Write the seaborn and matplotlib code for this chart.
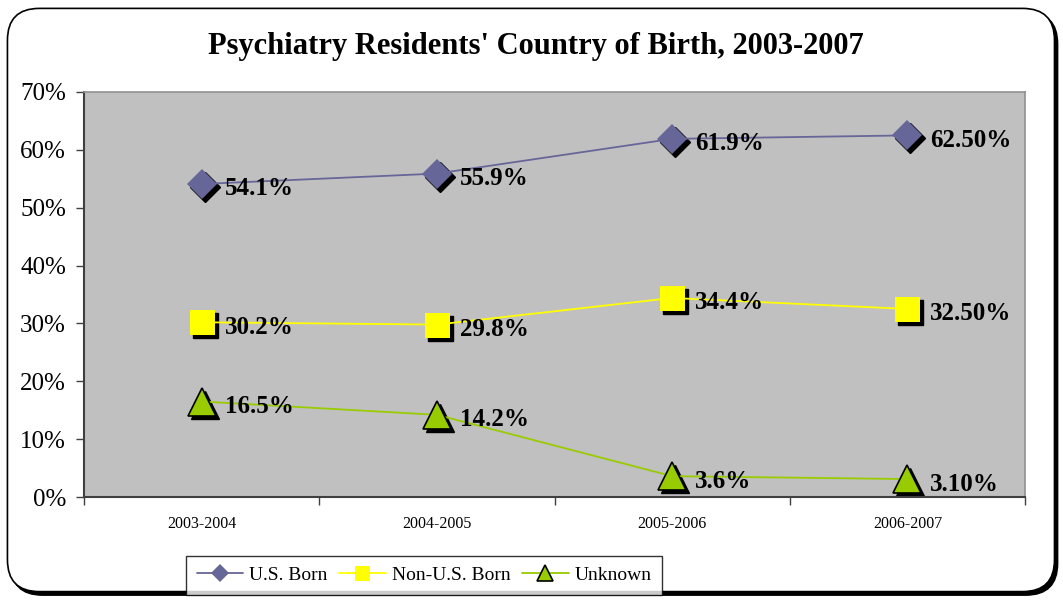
import numpy as np
import seaborn as sns
import matplotlib.pyplot as plt
from matplotlib.transforms import offset_copy
from matplotlib.patches import FancyBboxPatch

categories = ['2003-2004', '2004-2005', '2005-2006', '2006-2007']
us_born = [54.1, 55.9, 61.9, 62.5]
non_us_born = [30.2, 29.8, 34.4, 32.5]
unknown = [16.5, 14.2, 3.6, 3.1]
us_labels = ['54.1%', '55.9%', '61.9%', '62.50%']
non_us_labels = ['30.2%', '29.8%', '34.4%', '32.50%']
unknown_labels = ['16.5%', '14.2%', '3.6%', '3.10%']
yticks = [0, 10, 20, 30, 40, 50, 60, 70]

sns.set_style('white')
plt.rcParams['font.family'] = ['Liberation Serif', 'DejaVu Serif']
plt.rcParams['text.color'] = 'black'
plt.rcParams['xtick.color'] = 'black'
plt.rcParams['ytick.color'] = 'black'

fig = plt.figure(figsize=(10.63, 6), dpi=100)

# rounded outer frame with a shadow at bottom/right
shadow = FancyBboxPatch((0.010, 0.008), 0.985, 0.972, boxstyle='round,pad=0,rounding_size=0.03',
                        transform=fig.transFigure, facecolor='black', edgecolor='black',
                        mutation_aspect=1.77, zorder=-2)
frame = FancyBboxPatch((0.007, 0.014), 0.985, 0.972, boxstyle='round,pad=0,rounding_size=0.03',
                       transform=fig.transFigure, facecolor='white', edgecolor='black', lw=1.2,
                       mutation_aspect=1.77, zorder=-1)
fig.patches.extend([shadow, frame])

ax = fig.add_axes([84 / 1063, 103 / 600, 941 / 1063, 405 / 600])
ax.set_zorder(1)
ax.set_facecolor('#c0c0c0')

x = np.arange(len(categories))
series = [
    ('U.S. Born', us_born, us_labels, '#666699', 'D', 15, '#666699'),
    ('Non-U.S. Born', non_us_born, non_us_labels, '#ffff00', 's', 18, '#ffff00'),
    ('Unknown', unknown, unknown_labels, '#99cc00', '^', 20, 'black'),
]

shadow_tr = offset_copy(ax.transData, fig=fig, x=3, y=-3, units='dots')
for name, vals, labels, color, marker, ms, edge in series:
    ax.plot(x, vals, linestyle='none', marker=marker, markersize=ms, color='black',
            markeredgecolor='black', transform=shadow_tr, zorder=2)
    sns.lineplot(x=x, y=vals, ax=ax, color=color, marker=marker, markersize=ms,
                 markeredgecolor=edge, markeredgewidth=1.2 if edge == 'black' else 0,
                 linewidth=1.3, label=name, zorder=3)
    for xi, v, lab in zip(x, vals, labels):
        ax.annotate(lab, (xi, v), xytext=(23, -5), textcoords='offset pixels',
                    ha='left', va='center', fontsize=18, fontweight='bold', zorder=4)

ax.set_xlim(-0.5, 3.5)
ax.set_ylim(0, 70)
ax.set_yticks(yticks)
ax.set_yticklabels([f'{t}%' for t in yticks], fontsize=18)
ax.set_xticks(x)
ax.set_xticklabels(categories, fontsize=11.5)
ax.set_xticks(np.arange(-0.5, 4, 1), minor=True)
ax.tick_params(axis='x', which='major', length=0, pad=14)
ax.tick_params(axis='x', which='minor', length=6, width=1, color='#404040', direction='out', bottom=True)
ax.tick_params(axis='y', length=6, width=1, color='#404040', direction='out', left=True, pad=7)
ax.set_xlabel('')
ax.set_ylabel('')
for side in ['left', 'bottom']:
    ax.spines[side].set_color('#404040')
    ax.spines[side].set_linewidth(1.5)
for side in ['top', 'right']:
    ax.spines[side].set_color('#909090')
    ax.spines[side].set_linewidth(1.2)

leg = ax.legend(loc='center', bbox_to_anchor=(424 / 1063, 25 / 600),
                bbox_transform=fig.transFigure, ncol=3, fontsize=14, markerscale=0.6,
                handlelength=2.4, handletextpad=0.3, columnspacing=0.6, borderpad=0.55,
                frameon=True, fancybox=False, edgecolor='black')
leg.get_frame().set_linewidth(1.0)

fig.text(0.504, 0.922, "Psychiatry Residents' Country of Birth, 2003-2007",
         ha='center', va='center', fontsize=22, fontweight='bold')

fig.savefig('out.png', dpi=100)
